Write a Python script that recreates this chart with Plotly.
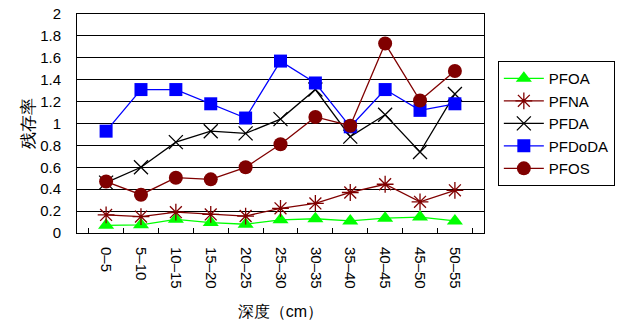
import plotly.graph_objects as go

depths = ["0–5", "5–10", "10–15", "15–20", "20–25", "25–30",
          "30–35", "35–40", "40–45", "45–50", "50–55"]

pfoa = [0.07, 0.075, 0.125, 0.095, 0.08, 0.12, 0.13, 0.11, 0.135, 0.145, 0.11]
pfna = [0.165, 0.15, 0.19, 0.17, 0.155, 0.225, 0.27, 0.37, 0.445, 0.285, 0.39]
pfda = [0.46, 0.60, 0.83, 0.93, 0.91, 1.04, 1.31, 0.88, 1.08, 0.74, 1.27]
pfdoda = [0.93, 1.31, 1.31, 1.18, 1.05, 1.57, 1.37, 0.97, 1.31, 1.12, 1.18]
pfos = [0.47, 0.35, 0.505, 0.49, 0.60, 0.81, 1.06, 0.98, 1.73, 1.21, 1.48]

y_ticks = [0, 0.2, 0.4, 0.6, 0.8, 1.0, 1.2, 1.4, 1.6, 1.8, 2.0]
y_tick_labels = ["0", "0.2", "0.4", "0.6", "0.8", "1", "1.2", "1.4", "1.6", "1.8", "2"]

series = [
    ("PFOA", pfoa, "#00FF00", dict(symbol="triangle-up", size=14, color="#00FF00")),
    ("PFNA", pfna, "#800000", dict(symbol="asterisk-open", size=14, color="#800000",
                                   line=dict(color="#800000", width=1.3))),
    ("PFDA", pfda, "#000000", dict(symbol="x-thin-open", size=14, color="#000000",
                                   line=dict(color="#000000", width=1.3))),
    ("PFDoDA", pfdoda, "#0000FF", dict(symbol="square", size=13, color="#0000FF")),
    ("PFOS", pfos, "#800000", dict(symbol="circle", size=14, color="#800000")),
]

fig = go.Figure()
for name, vals, col, mk in series:
    fig.add_trace(go.Scatter(
        x=depths, y=vals, name=name, mode="lines+markers",
        line=dict(color=col, width=1.3), marker=mk,
    ))

font = "Liberation Sans, Arial, sans-serif"
fig.update_layout(
    width=618, height=322,
    margin=dict(l=77, r=134, t=14, b=89, autoexpand=False),
    paper_bgcolor="white", plot_bgcolor="white",
    font=dict(family=font, size=15, color="black"),
    showlegend=True,
    legend=dict(
        x=1.034, y=0.785, xanchor="left", yanchor="top",
        bordercolor="black", borderwidth=1,
        font=dict(size=15), tracegroupgap=0, itemwidth=40,
    ),
    xaxis=dict(
        type="category", tickangle=90,
        showline=True, linecolor="black", linewidth=1, mirror=True,
        ticks="inside", tickson="boundaries", ticklen=5, tickcolor="black",
        showgrid=False, tickfont=dict(size=15), ticklabelstandoff=10,
        title=dict(text="深度（cm）", font=dict(size=16), standoff=18),
    ),
    yaxis=dict(
        range=[0, 2], tickvals=y_ticks, ticktext=y_tick_labels,
        showline=True, linecolor="black", linewidth=1, mirror=True,
        showgrid=True, gridcolor="black", gridwidth=1,
        ticks="", tickfont=dict(size=15), ticklabelstandoff=12,
        title=dict(text="残存率", font=dict(size=17), standoff=1),
        zeroline=False,
    ),
)

fig.write_html("out.html")
